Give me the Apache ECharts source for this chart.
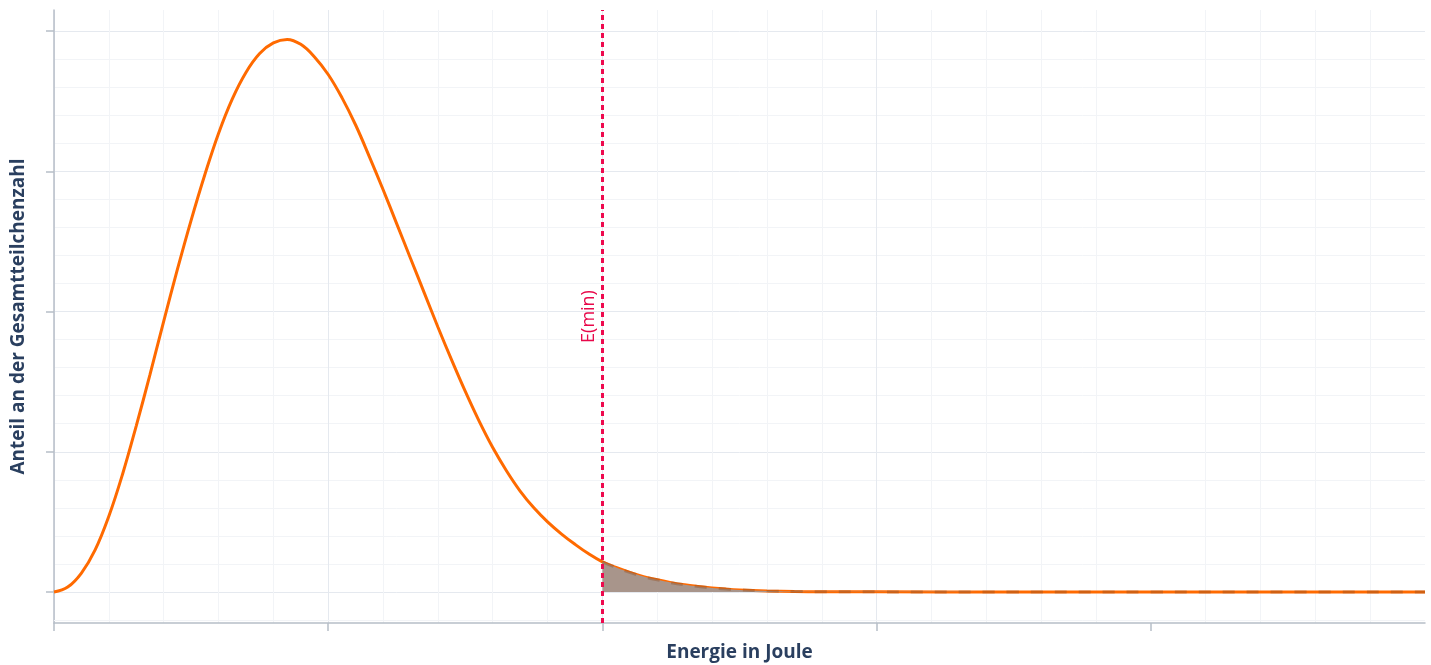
<!DOCTYPE html>
<html>
<head>
<meta charset="utf-8">
<script src="https://cdn.jsdelivr.net/npm/echarts@6/dist/echarts.min.js"></script>
<style>
html,body{margin:0;padding:0;background:#ffffff;}
#chart{width:1431px;height:665px;}
</style>
</head>
<body>
<div id="chart"></div>
<script>
// Energy values (x) and share of total particle count (y)
const energy = [0.00,0.05,0.10,0.15,0.20,0.25,0.30,0.35,0.40,0.45,0.50,0.55,0.60,0.65,0.70,0.75,0.80,0.85,0.90,0.95,
                1.00,1.05,1.10,1.15,1.20,1.25,1.30,1.35,1.40,1.45,1.50,1.55,1.60,1.65,1.70,1.75,1.80,1.85,1.90,1.95,
                2.00,2.05,2.10,2.15,2.20,2.25,2.30,2.35,2.40,2.45,2.50,2.60,2.70,2.80,3.00,3.50,4.00,4.50,5.00];
const share  = [0.000,0.035,0.135,0.30,0.54,0.84,1.185,1.55,1.93,2.30,2.65,2.975,3.27,3.515,3.705,3.84,3.915,3.94,3.905,3.815,
                3.69,3.525,3.33,3.105,2.87,2.625,2.38,2.135,1.89,1.655,1.43,1.22,1.03,0.865,0.72,0.60,0.50,0.415,0.34,0.272,
                0.215,0.175,0.14,0.11,0.087,0.067,0.051,0.039,0.029,0.021,0.015,0.008,0.004,0.002,0.001,0,0,0,0];
const eMin = 2.0;
const eMinLabel = 'E(min)';
const xTitle = 'Energie in Joule';
const yTitle = 'Anteil an der Gesamtteilchenzahl';
const xTicks = [0,1,2,3,4,5];
const yTicks = [0,1,2,3,4];

const curve = energy.map((e, i) => [e, share[i]]);
const tail = curve.filter(p => p[0] >= eMin);

const axisCol = '#b7bec8';
const majorCol = '#e5e9ef';
const minorCol = '#f2f4f7';
const titleStyle = {fontFamily:'Open Sans', fontWeight:'bold', fontSize:19, color:'#2a3f5f'};

const chart = echarts.init(document.getElementById('chart'), null, {renderer:'canvas'});
chart.setOption({
  animation:false,
  backgroundColor:'#ffffff',
  textStyle:{fontFamily:'Open Sans'},
  grid:[
    {left:54, right:6, top:10, bottom:42, containLabel:false, outerBoundsMode:'none'},
    {left:54, right:6, top:31, bottom:73, containLabel:false, outerBoundsMode:'none'}
  ],
  xAxis:[
    {gridIndex:0, type:'value', min:xTicks[0], max:xTicks[xTicks.length-1], interval:1,
     axisLine:{show:true, onZero:false, lineStyle:{color:axisCol, width:1.5}},
     axisTick:{show:true, length:8, customValues:xTicks.slice(0, -1), lineStyle:{color:axisCol, width:1.5}},
     axisLabel:{show:false},
     splitLine:{show:true, showMaxLine:false, lineStyle:{color:majorCol, width:1}},
     minorTick:{show:false, splitNumber:5},
     minorSplitLine:{show:true, lineStyle:{color:minorCol, width:1}},
     name:xTitle, nameLocation:'middle', nameGap:20, nameTextStyle:titleStyle},
    {gridIndex:1, type:'value', min:xTicks[0], max:xTicks[xTicks.length-1], show:false}
  ],
  yAxis:[
    {gridIndex:0, type:'value', min:-0.221, max:4.15,
     axisLine:{show:true, onZero:false, lineStyle:{color:axisCol, width:1.5}},
     axisTick:{show:false}, axisLabel:{show:false}, splitLine:{show:false},
     name:yTitle, nameLocation:'middle', nameGap:26, nameTextStyle:titleStyle},
    {gridIndex:1, type:'value', min:yTicks[0], max:yTicks[yTicks.length-1], interval:1,
     axisLine:{show:false},
     axisTick:{show:true, length:8, lineStyle:{color:axisCol, width:1.5}},
     axisLabel:{show:false},
     splitLine:{show:true, lineStyle:{color:majorCol, width:1}},
     minorTick:{show:false, splitNumber:5},
     minorSplitLine:{show:true, lineStyle:{color:minorCol, width:1}}}
  ],
  series:[
    {type:'line', xAxisIndex:0, yAxisIndex:0, data:curve, showSymbol:false, smooth:0.4,
     lineStyle:{color:'#ff6a00', width:3}, z:3,
     markLine:{silent:true, symbol:['none','none'],
       data:[
         {yAxis:-0.2, lineStyle:{color:minorCol, width:1, type:'solid'}, label:{show:false}},
         {xAxis:eMin, lineStyle:{color:'#ee0a4e', width:3, type:[5,4]},
          label:{show:true, formatter:eMinLabel, position:'insideMiddleTop', distance:5,
                 color:'#e8084a', fontSize:18, fontFamily:'Open Sans'}}
       ]}},
    {type:'line', xAxisIndex:0, yAxisIndex:0, data:tail, showSymbol:false, smooth:0.4,
     lineStyle:{color:'rgba(150,85,40,0.45)', width:3, type:[12,12]},
     areaStyle:{color:'#a8958b', opacity:1, origin:0}, z:4}
  ]
});
</script>
</body>
</html>
